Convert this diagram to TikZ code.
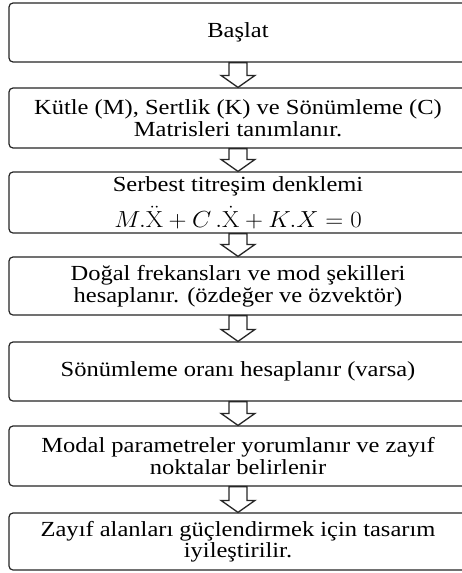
\documentclass[tikz,border=0pt]{standalone}
\usepackage[no-math]{fontspec}
\usepackage{graphicx}
\setmainfont{Liberation Serif}[FakeStretch=1.14]
\usetikzlibrary{calc}
\tikzset{
  flowbox/.style={draw=black!85, line width=1.2pt, rounded corners=4pt,
    minimum width=458pt, inner sep=0pt, align=center, text=black,
    font=\fontsize{21.5}{21.5}\selectfont},
  flowarrow/.style={draw=black!85, line width=1.3pt, fill=white, line join=miter},
}
\newcommand\blockarrow[2]{%
  \draw[flowarrow] let \p1=(#1.south), \p2=(#2.north) in
    (\x1-9pt,\y1) -- (\x1+9pt,\y1) -- (\x1+9pt,\y2+12pt) -- (\x1+17pt,\y2+12pt)
    -- (\x1,\y2) -- (\x1-17pt,\y2+12pt) -- (\x1-9pt,\y2+12pt) -- cycle;}
\begin{document}
\begin{tikzpicture}[x=1pt,y=-1pt]
\useasboundingbox[fill=white] (0,0) rectangle (462,573);
\node[flowbox, minimum height=59pt] (b1) at (238,32.5) {Başlat};
\node[flowbox, minimum height=60pt] (b2) at (238,118) {Kütle (M), Sertlik (K) ve Sönümleme (C)\\Matrisleri tanımlanır.};
\node[flowbox, minimum height=61pt] (b3) at (238,202.5) {Serbest titreşim denklemi\\[9pt]\scalebox{1.2}[1.12]{$M.\ddot{\mathrm{X}}+C\,.\dot{\mathrm{X}}+K.X=0$}};
\node[flowbox, minimum height=58pt] (b4) at (238,286) {Doğal frekansları ve mod şekilleri\\hesaplanır. (özdeğer ve özvektör)};
\node[flowbox, minimum height=59pt] (b5) at (238,371.5) {Sönümleme oranı hesaplanır (varsa)};
\node[flowbox, minimum height=60pt] (b6) at (238,456) {Modal parametreler yorumlanır ve zayıf\\noktalar belirlenir};
\node[flowbox, minimum height=57pt] (b7) at (238,541.5) {Zayıf alanları güçlendirmek için tasarım\\iyileştirilir.};
\blockarrow{b1}{b2}
\blockarrow{b2}{b3}
\blockarrow{b3}{b4}
\blockarrow{b4}{b5}
\blockarrow{b5}{b6}
\blockarrow{b6}{b7}
\end{tikzpicture}
\end{document}
